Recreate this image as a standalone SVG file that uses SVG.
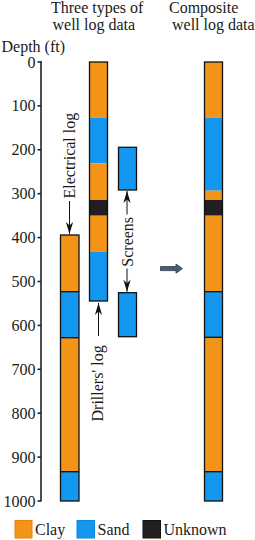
<svg xmlns="http://www.w3.org/2000/svg" width="255" height="540" viewBox="0 0 255 540" font-family="'Liberation Serif', 'Times New Roman', Tinos, serif">
<style>
text{font-family:'Liberation Serif','Times New Roman',Tinos,serif;font-size:16px;fill:#1a1a1a}
.num{text-anchor:end}
.clay{fill:#F39418}
.sand{fill:#1497EE}
.unk{fill:#231F20}
.frame{fill:none;stroke:#111;stroke-width:1.3}
.tick{stroke:#222;stroke-width:1.6}
.lead{stroke:#111;stroke-width:1;fill:none}
</style>
<defs>
<marker id="ah" markerUnits="userSpaceOnUse" markerWidth="14" markerHeight="10" viewBox="-13 -5 14 10" refX="0" refY="0" orient="auto">
<path d="M0,0 L-12,-3.6 L-8.5,0 L-12,3.6 Z" fill="#111"/>
</marker>
</defs>

<g id="titles">
<text x="51" y="12.5">Three types of</text>
<text x="52.5" y="30">well log data</text>
<text x="169" y="12.5">Composite</text>
<text x="172" y="30">well log data</text>
</g>

<g id="axis">
<text x="1.5" y="51.5">Depth (ft)</text>
<line x1="41" y1="61" x2="41" y2="501.5" class="tick" stroke-width="1.8"/>
<g class="tick">
<line x1="37.5" y1="62" x2="41" y2="62"/>
<line x1="37.5" y1="105.9" x2="41" y2="105.9"/>
<line x1="37.5" y1="149.8" x2="41" y2="149.8"/>
<line x1="37.5" y1="193.7" x2="41" y2="193.7"/>
<line x1="37.5" y1="237.6" x2="41" y2="237.6"/>
<line x1="37.5" y1="281.5" x2="41" y2="281.5"/>
<line x1="37.5" y1="325.4" x2="41" y2="325.4"/>
<line x1="37.5" y1="369.3" x2="41" y2="369.3"/>
<line x1="37.5" y1="413.2" x2="41" y2="413.2"/>
<line x1="37.5" y1="457.1" x2="41" y2="457.1"/>
<line x1="37.5" y1="501" x2="41" y2="501"/>
</g>
<text class="num" x="35.5" y="67.5">0</text>
<text class="num" x="35.5" y="111.4">100</text>
<text class="num" x="35.5" y="155.3">200</text>
<text class="num" x="35.5" y="199.2">300</text>
<text class="num" x="35.5" y="243.1">400</text>
<text class="num" x="35.5" y="287">500</text>
<text class="num" x="35.5" y="330.9">600</text>
<text class="num" x="35.5" y="374.8">700</text>
<text class="num" x="35.5" y="418.7">800</text>
<text class="num" x="35.5" y="462.6">900</text>
<text class="num" x="35.5" y="506.5">1000</text>
</g>

<g id="electrical-log">
<rect class="clay" x="60.5" y="235" width="18.5" height="56.7"/>
<rect class="sand" x="60.5" y="291.7" width="18.5" height="46"/>
<rect class="clay" x="60.5" y="337.7" width="18.5" height="134"/>
<rect class="sand" x="60.5" y="471.7" width="18.5" height="29.3"/>
<rect class="frame" x="60.5" y="235" width="18.5" height="266"/>
<line class="frame" x1="60.5" y1="291.7" x2="79" y2="291.7"/>
<line class="frame" x1="60.5" y1="337.7" x2="79" y2="337.7"/>
<line class="frame" x1="60.5" y1="471.7" x2="79" y2="471.7"/>
</g>

<g id="drillers-log">
<rect class="clay" x="89.5" y="62" width="18" height="55.7"/>
<rect class="sand" x="89.5" y="117.7" width="18" height="45.6"/>
<rect class="clay" x="89.5" y="163.3" width="18" height="36.7"/>
<rect class="unk" x="89.5" y="200" width="18" height="15.7"/>
<rect class="clay" x="89.5" y="215.7" width="18" height="36"/>
<rect class="sand" x="89.5" y="251.7" width="18" height="49.3"/>
<rect class="frame" x="89.5" y="62" width="18" height="239"/>
</g>

<g id="screens">
<rect class="sand" x="118.5" y="147.3" width="18" height="42.7"/>
<rect class="frame" x="118.5" y="147.3" width="18" height="42.7"/>
<rect class="sand" x="118.5" y="292.7" width="18" height="44"/>
<rect class="frame" x="118.5" y="292.7" width="18" height="44"/>
</g>

<g id="composite-log">
<rect class="clay" x="204.5" y="62" width="18" height="55.7"/>
<rect class="sand" x="204.5" y="117.7" width="18" height="73"/>
<rect class="clay" x="204.5" y="190.7" width="18" height="9.3"/>
<rect class="unk" x="204.5" y="200" width="18" height="15.7"/>
<rect class="clay" x="204.5" y="215.7" width="18" height="76"/>
<rect class="sand" x="204.5" y="291.7" width="18" height="45.6"/>
<rect class="clay" x="204.5" y="337.3" width="18" height="134.4"/>
<rect class="sand" x="204.5" y="471.7" width="18" height="29.3"/>
<rect class="frame" x="204.5" y="62" width="18" height="439"/>
<line class="frame" x1="204.5" y1="291.7" x2="222.5" y2="291.7"/>
<line class="frame" x1="204.5" y1="337.3" x2="222.5" y2="337.3"/>
<line class="frame" x1="204.5" y1="471.7" x2="222.5" y2="471.7"/>
</g>

<g id="labels">
<text transform="translate(74.5,198.5) rotate(-90)">Electrical log</text>
<text transform="translate(103.3,421.5) rotate(-90)">Drillers' log</text>
<text transform="translate(132.7,266.7) rotate(-90)">Screens</text>
</g>

<g id="connectors">
<line class="lead" x1="69.5" y1="201" x2="69.5" y2="234" marker-end="url(#ah)"/>
<line class="lead" x1="98.5" y1="336" x2="98.5" y2="303" marker-end="url(#ah)"/>
<line class="lead" x1="127" y1="214.5" x2="127" y2="191" marker-end="url(#ah)"/>
<line class="lead" x1="127" y1="268.5" x2="127" y2="291.7" marker-end="url(#ah)"/>
<path id="combine-arrow" d="M160.5,266.6 H176 V264 L182.5,268.6 L176,273.2 V270.6 H160.5 Z" fill="#4A5C78" stroke="#2C3848" stroke-width="0.8"/>
</g>

<g id="legend">
<rect x="15" y="520.5" width="17" height="17.5" fill="#F39418" stroke="#E0840E" stroke-width="1"/>
<text x="35" y="534.5">Clay</text>
<rect x="77" y="520.5" width="17.5" height="17.5" fill="#1497EE" stroke="#0F86D8" stroke-width="1"/>
<text x="97.5" y="534.5">Sand</text>
<rect x="143" y="520.5" width="17.5" height="17.5" fill="#231F20" stroke="#111" stroke-width="1"/>
<text x="163.5" y="534.5">Unknown</text>
</g>
</svg>
